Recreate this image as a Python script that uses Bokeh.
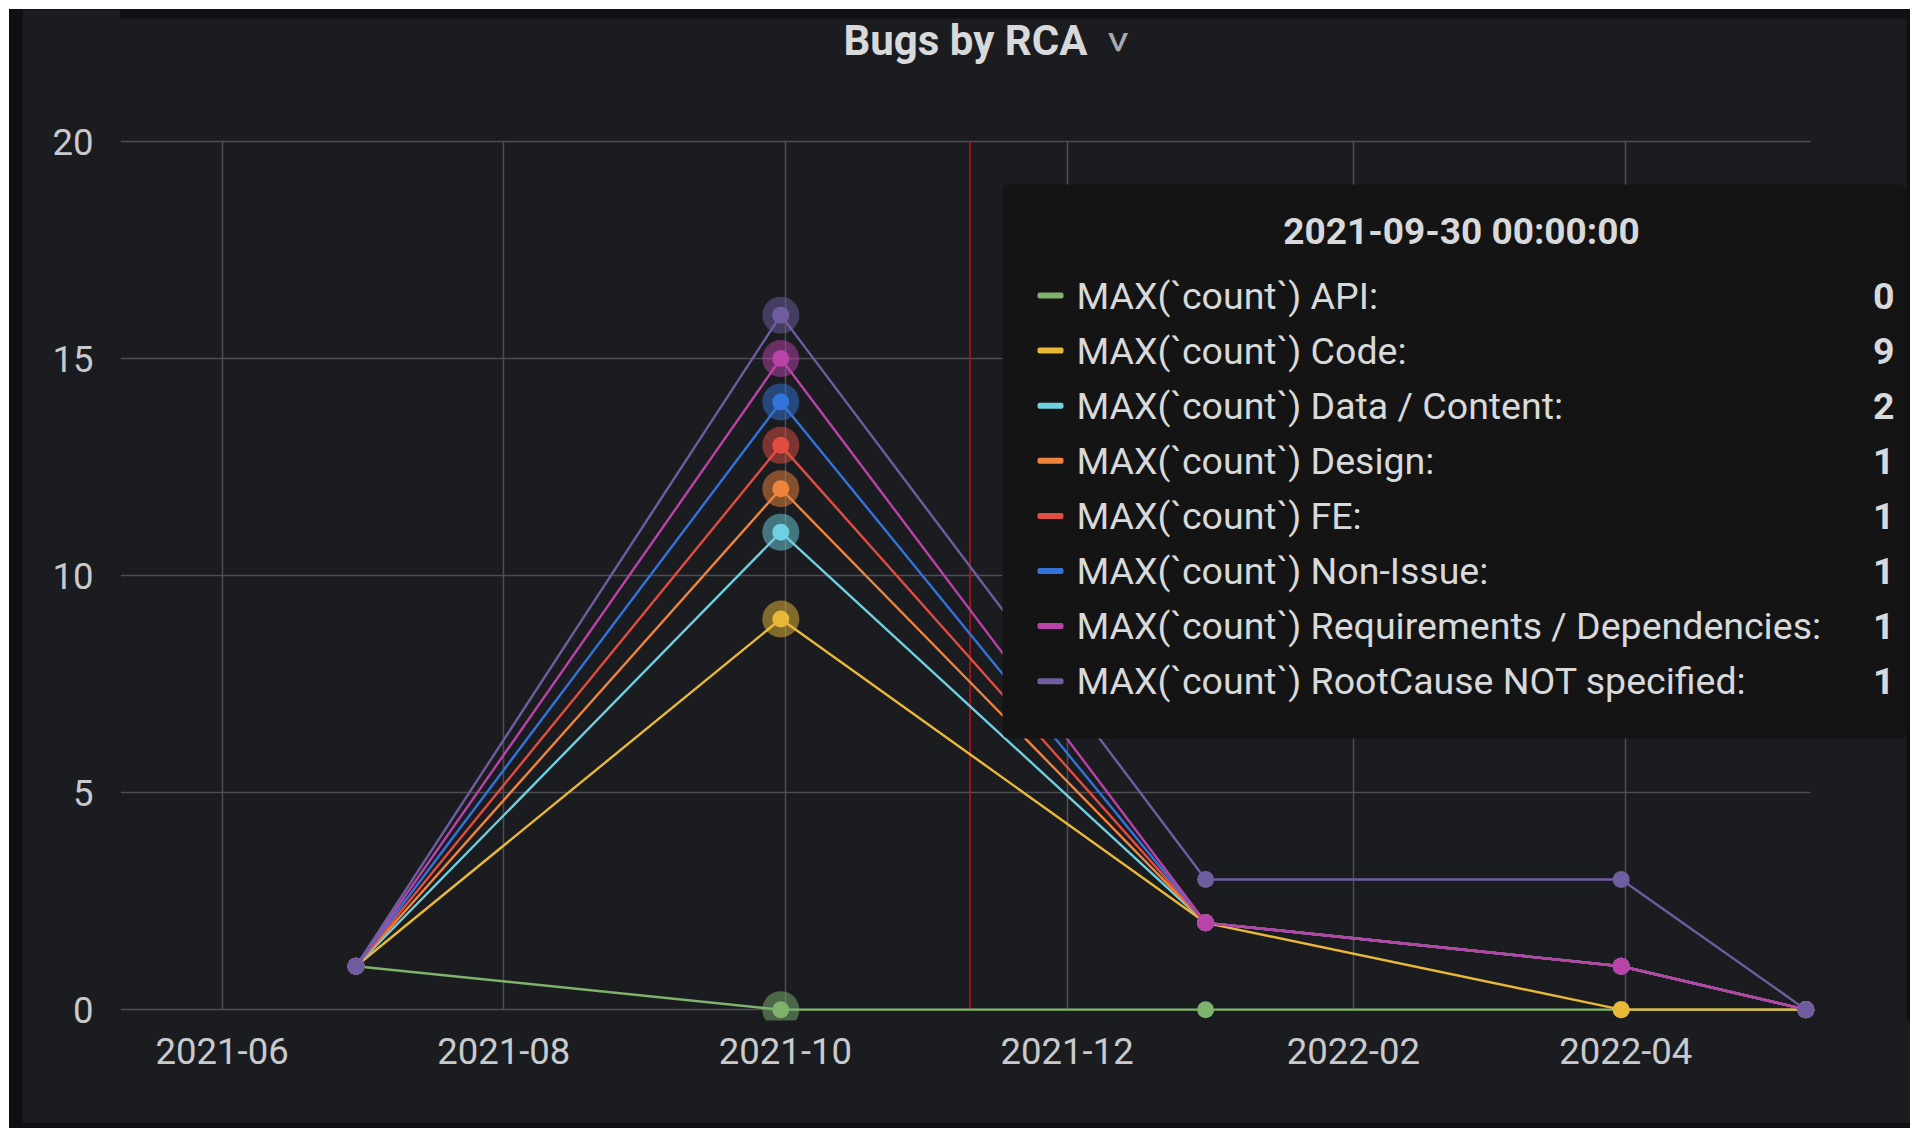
import math
import numpy as np
import pandas as pd
from bokeh.plotting import figure
from bokeh.layouts import column
from bokeh.models import Range1d, FixedTicker, DatetimeTickFormatter, BoxAnnotation, Label
from bokeh.embed import file_html
from bokeh.resources import INLINE

# ---------------- data ----------------
dates = ["2021-06-30", "2021-09-30", "2021-12-31", "2022-03-31", "2022-05-10"]
series_names = [
    "MAX(`count`) API",
    "MAX(`count`) Code",
    "MAX(`count`) Data / Content",
    "MAX(`count`) Design",
    "MAX(`count`) FE",
    "MAX(`count`) Non-Issue",
    "MAX(`count`) Requirements / Dependencies",
    "MAX(`count`) RootCause NOT specified",
]
api = [1, 0, 0, 0, 0]
code = [0, 9, 2, 0, 0]
data_content = [0, 2, 0, 1, 0]
design = [0, 1, 0, 0, 0]
fe = [0, 1, 0, 0, 0]
non_issue = [0, 1, 0, 0, 0]
requirements = [0, 1, 0, 0, 0]
root_cause = [0, 1, 1, 2, 0]
series_values = [api, code, data_content, design, fe, non_issue, requirements, root_cause]
colors = ["#7EB26D", "#EAB839", "#6ED0E0", "#EF843C", "#E24D42", "#3274D9", "#BA43A9", "#705DA0"]

x_tick_labels = ["2021-06", "2021-08", "2021-10", "2021-12", "2022-02", "2022-04"]
y_ticks = [0, 5, 10, 15, 20]
hover_index = 1
hover_title = "2021-09-30 00:00:00"
cursor_date = "2021-11-10"
title_text = "Bugs by RCA"
view_start, view_end = "2021-05-10", "2022-05-11"

# ---------------- layout constants (page pixels) ----------------
FIG_X, FIG_Y = 22, 9          # where the figure sits on the page
FIG_R, FIG_B = 1910, 1123
FL, FR_GRID, FR, FT, FB = 120, 1810, 1910, 9, 1020
GRID_TOP = 141                # y=20 line
W, H = FIG_R - FIG_X, FIG_B - FIG_Y

X0 = pd.Timestamp(view_start).value / 1e6
XG = pd.Timestamp(view_end).value / 1e6
SX = (XG - X0) / (FR_GRID - FL)                     # ms per px
Y0 = -0.25
SY = (20 - Y0) / (FB - GRID_TOP)                    # units per px
X1 = X0 + (FR - FL) * SX
Y1 = 20 + (GRID_TOP - FT) * SY

def px2x(px):
    return X0 + (px - FL) * SX

def px2y(py):
    return 20 - (py - GRID_TOP) * SY

PANEL = "#1b1c20"
OUTER = "#0f1013"
TEXT = "#d8d9da"
FONT = "Roboto"

xs = [pd.Timestamp(d).value / 1e6 for d in dates]
stacked = np.cumsum(np.array(series_values, dtype=float), axis=0)

p = figure(
    width=W, height=H, x_axis_type="datetime",
    x_range=Range1d(X0, X1), y_range=Range1d(Y0, Y1),
    output_backend="svg", toolbar_location=None,
    min_border_left=FL - FIG_X, min_border_right=FIG_R - FR,
    min_border_top=FT - FIG_Y, min_border_bottom=FIG_B - FB,
    background_fill_color=PANEL, border_fill_color=PANEL,
)
p.outline_line_color = None

# outer dark strips inside the frame (top and right)
p.add_layout(BoxAnnotation(left=px2x(FL - 5), right=px2x(FR + 5), top=px2y(FT - 5), bottom=px2y(18),
                           fill_color=OUTER, fill_alpha=1, line_color=None, level="underlay"))
p.add_layout(BoxAnnotation(left=px2x(1906), right=px2x(FR + 5), top=px2y(FT - 5), bottom=px2y(FB + 5),
                           fill_color=OUTER, fill_alpha=1, line_color=None, level="underlay"))

# axes
x_ticks = [pd.Timestamp(t + "-01").value / 1e6 for t in x_tick_labels]
p.xaxis.ticker = FixedTicker(ticks=x_ticks)
fmt = "%Y-%m"
p.xaxis.formatter = DatetimeTickFormatter(days=fmt, months=fmt, years=fmt, hours=fmt)
p.yaxis.ticker = FixedTicker(ticks=y_ticks)
for ax in (p.xaxis, p.yaxis):
    ax.axis_line_color = None
    ax.major_tick_line_color = None
    ax.minor_tick_line_color = None
    ax.major_tick_out = 0
    ax.major_tick_in = 0
    ax.major_label_text_font = FONT
    ax.major_label_text_font_size = "36.5px"
    ax.major_label_text_color = "#c9cacd"
p.yaxis.major_label_standoff = 27
p.xaxis.major_label_standoff = 17

for g in (p.xgrid, p.ygrid):
    g.grid_line_color = "#4d4e53"
    g.grid_line_width = 1.5
p.ygrid.cross_bounds = (X0, XG)
p.xgrid.cross_bounds = (0, 20)

# hover cursor line
cx = pd.Timestamp(cursor_date).value / 1e6
p.segment(x0=[cx], y0=[0], x1=[cx], y1=[20], line_color="#981a1c", line_width=1.8)

# series (stacked)
for i, c in enumerate(colors):
    ys = stacked[i]
    p.line(xs, ys, line_color=c, line_width=2.4)
    p.scatter([xs[hover_index]], [ys[hover_index]], size=37, fill_color=c, fill_alpha=0.5, line_color=None)
    p.scatter(xs, ys, size=17, fill_color=c, line_color=None)

# title
p.add_layout(Label(x=px2x(965), y=px2y(40), text=title_text, text_align="center", text_baseline="middle",
                   text_font=FONT, text_font_size="42px", text_font_style="bold", text_color=TEXT))
p.add_layout(Label(x=px2x(1118), y=px2y(41), text=">", angle=-math.pi / 2, text_align="center",
                   text_baseline="middle", text_font=FONT, text_font_size="44px", text_color="#a9abaf"))

# tooltip
p.add_layout(BoxAnnotation(left=px2x(1002), right=px2x(1906), top=px2y(184), bottom=px2y(738),
                           fill_color="#141414", fill_alpha=1, line_color=None, border_radius=6, level="overlay"))
p.add_layout(Label(x=px2x(1461), y=px2y(231), text=hover_title, text_align="center", text_baseline="middle",
                   text_font=FONT, text_font_size="37px", text_font_style="bold", text_color=TEXT, level="overlay"))
row0, drow = 295, 55.1
for i, (name, c) in enumerate(zip(series_names, colors)):
    yc = row0 + i * drow
    p.add_layout(BoxAnnotation(left=px2x(1037), right=px2x(1063), top=px2y(yc - 3), bottom=px2y(yc + 3),
                               fill_color=c, fill_alpha=1, line_color=None, border_radius=2, level="overlay"))
    p.add_layout(Label(x=px2x(1076), y=px2y(yc), text=name + ":", text_align="left", text_baseline="middle",
                       text_font=FONT, text_font_size="37.5px", text_color=TEXT, level="overlay"))
    p.add_layout(Label(x=px2x(1894), y=px2y(yc), text=str(series_values[i][hover_index]), text_align="right",
                       text_baseline="middle", text_font=FONT, text_font_size="37.5px", text_font_style="bold",
                       text_color=TEXT, level="overlay"))

layout = column(p, styles={"margin-left": "9px", "margin-top": "9px", "padding-left": "13px",
                           "padding-bottom": "5px", "background-color": OUTER})

open("out.html", "w").write(file_html(layout, INLINE))
